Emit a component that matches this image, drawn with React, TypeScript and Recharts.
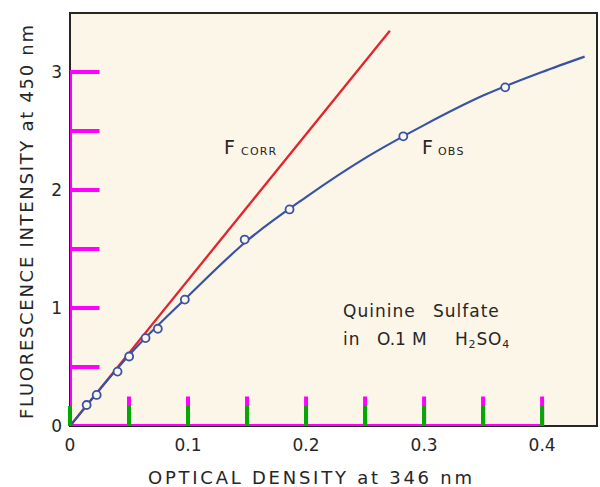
import React from "react";
import {
  ComposedChart,
  Line,
  Scatter,
  XAxis,
  YAxis,
  ReferenceArea,
} from "recharts";

// optical density vs fluorescence intensity
const corrLine = [
  { od: 0, f: 0 },
  { od: 0.271, f: 3.35 },
];

const obsCurve = [
  { od: 0, f: 0 },
  { od: 0.05, f: 0.6 },
  { od: 0.1, f: 1.1 },
  { od: 0.15, f: 1.57 },
  { od: 0.2, f: 1.94 },
  { od: 0.25, f: 2.27 },
  { od: 0.3, f: 2.55 },
  { od: 0.35, f: 2.8 },
  { od: 0.4, f: 3.0 },
  { od: 0.436, f: 3.13 },
];

const obsPoints = [
  { od: 0.0141, f: 0.178 },
  { od: 0.0226, f: 0.263 },
  { od: 0.0403, f: 0.461 },
  { od: 0.0501, f: 0.589 },
  { od: 0.064, f: 0.745 },
  { od: 0.0744, f: 0.824 },
  { od: 0.0973, f: 1.071 },
  { od: 0.148, f: 1.58 },
  { od: 0.186, f: 1.835 },
  { od: 0.2824, f: 2.455 },
  { od: 0.3687, f: 2.87 },
];

const xTicks = [0, 0.05, 0.1, 0.15, 0.2, 0.25, 0.3, 0.35, 0.4];
const yTicks = [0, 0.5, 1, 1.5, 2, 2.5, 3];
const X_MAX = 0.4465;
const Y_MAX = 3.5;

const INK = "#262626";
const BLUE = "#3852a6";
const RED = "#e2252b";
const CREAM = "#fcf6e8";
const FONT = "'DejaVu Sans', sans-serif";

const M = { top: 13, right: 3, bottom: 0, left: 0 };
const Y_AXIS_W = 70;
const X_AXIS_H = 61;

// inward tick marks as out-and-back strokes along each axis (length in data units)
const X_TICK_LEN = 0.25;
const Y_TICK_LEN = 0.025;
const xTickPath = xTicks.flatMap((t) => [
  { od: t, f: 0 },
  { od: t, f: X_TICK_LEN },
  { od: t, f: 0 },
]);
const yTickPath = yTicks.flatMap((t) => [
  { od: 0, f: t },
  { od: Y_TICK_LEN, f: t },
  { od: 0, f: t },
]);

function isWhole(v: number, step: number) {
  const r = v / step;
  return Math.abs(r - Math.round(r)) < 1e-6;
}

function XTick(props: any) {
  const { x, y, payload } = props;
  const v = payload.value as number;
  const label = v === 0 ? "0" : v.toFixed(1);
  return (
    <g>
      <rect x={x - 2} y={y - 20} width={4} height={20} fill="#00aa00" />
      {isWhole(v, 0.1) && (
        <text x={x} y={y + 25} textAnchor="middle" fontSize={17} fill={INK} fontFamily={FONT}>
          {label}
        </text>
      )}
    </g>
  );
}

function YTick(props: any) {
  const { x, y, payload } = props;
  const v = payload.value as number;
  if (!isWhole(v, 1)) return <g />;
  return (
    <text x={x - 8} y={y + 6} textAnchor="end" fontSize={17} fill={INK} fontFamily={FONT}>
      {String(v)}
    </text>
  );
}

function Dot(props: any) {
  const { cx, cy } = props;
  return <circle cx={cx} cy={cy} r={4} fill={CREAM} stroke={BLUE} strokeWidth={1.8} />;
}

export default function App() {
  return (
    <div style={{ position: "absolute", left: 0, top: 0, width: 600, height: 487, background: "#fff" }}>
      <div
        style={{
          position: "absolute",
          left: M.left + Y_AXIS_W,
          top: M.top,
          width: 600 - M.left - Y_AXIS_W - M.right,
          height: 487 - M.top - M.bottom - X_AXIS_H,
          background: CREAM,
        }}
      />
      <div style={{ position: "absolute", left: 0, top: 0 }}>
        <ComposedChart width={600} height={487} margin={M}>
          <XAxis
            type="number"
            dataKey="od"
            domain={[0, X_MAX]}
            ticks={xTicks}
            allowDataOverflow
            axisLine={false}
            tickLine={false}
            tickSize={0}
            tickMargin={0}
            height={X_AXIS_H}
            tick={<XTick />}
          />
          <YAxis
            type="number"
            dataKey="f"
            domain={[0, Y_MAX]}
            ticks={yTicks}
            allowDataOverflow
            axisLine={false}
            tickLine={false}
            tickSize={0}
            tickMargin={0}
            width={Y_AXIS_W}
            tick={<YTick />}
          />
          <ReferenceArea
            x1={0}
            x2={X_MAX}
            y1={0}
            y2={Y_MAX}
            fill="none"
            stroke={INK}
            strokeWidth={2}
          />
          <Line
            data={xTickPath}
            dataKey="f"
            type="linear"
            stroke="#ff00ff"
            strokeWidth={4}
            dot={false}
            isAnimationActive={false}
          />
          <Line
            data={yTickPath}
            dataKey="f"
            type="linear"
            stroke="#ff00ff"
            strokeWidth={4}
            dot={false}
            isAnimationActive={false}
          />
          <Line
            data={corrLine}
            dataKey="f"
            type="linear"
            stroke={RED}
            strokeWidth={2.3}
            dot={false}
            isAnimationActive={false}
          />
          <Line
            data={obsCurve}
            dataKey="f"
            type="monotone"
            stroke={BLUE}
            strokeWidth={2.2}
            dot={false}
            isAnimationActive={false}
          />
          <Scatter data={obsPoints} dataKey="f" shape={<Dot />} isAnimationActive={false} />

          <text x={224} y={154} fontSize={19} fill={INK} fontFamily={FONT}>F</text>
          <text x={241} y={155} fontSize={11} fill={INK} fontFamily={FONT} letterSpacing={1.2}>CORR</text>
          <text x={422} y={154} fontSize={19} fill={INK} fontFamily={FONT}>F</text>
          <text x={438} y={155} fontSize={11} fill={INK} fontFamily={FONT} letterSpacing={1.2}>OBS</text>

          <text x={343} y={317} fontSize={17} fill={INK} fontFamily={FONT} letterSpacing={1}>Quinine</text>
          <text x={433} y={317} fontSize={17} fill={INK} fontFamily={FONT} letterSpacing={1}>Sulfate</text>
          <text x={343} y={345} fontSize={17} fill={INK} fontFamily={FONT} letterSpacing={1}>in</text>
          <text x={377} y={345} fontSize={17} fill={INK} fontFamily={FONT}>O.1</text>
          <text x={412} y={345} fontSize={17} fill={INK} fontFamily={FONT}>M</text>
          <text x={455} y={345} fontSize={17} fill={INK} fontFamily={FONT} letterSpacing={0.8}>
            H
            <tspan fontSize={11} dy={3}>2</tspan>
            <tspan dy={-3}>SO</tspan>
            <tspan fontSize={11} dy={3}>4</tspan>
          </text>

          <text
            x={310}
            y={484}
            textAnchor="middle"
            fontSize={18}
            fill={INK}
            fontFamily={FONT}
            textLength={324}
            lengthAdjust="spacing"
          >
            OPTICAL DENSITY  at  346  nm
          </text>
          <text
            x={33}
            y={222}
            transform="rotate(-90 33 222)"
            textAnchor="middle"
            fontSize={18}
            fill={INK}
            fontFamily={FONT}
            textLength={394}
            lengthAdjust="spacing"
          >
            FLUORESCENCE  INTENSITY  at  450 nm
          </text>
        </ComposedChart>
      </div>
    </div>
  );
}
